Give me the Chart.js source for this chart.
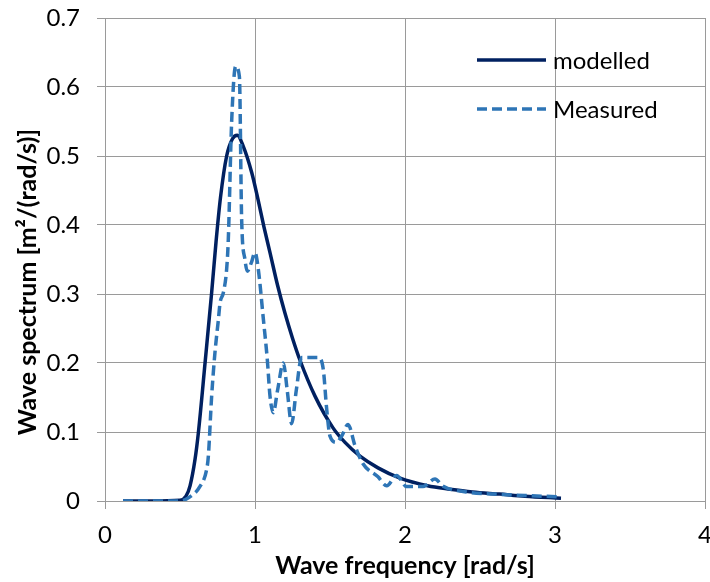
<!DOCTYPE html>
<html>
<head>
<meta charset="utf-8">
<script src="https://cdn.jsdelivr.net/npm/chart.js@4.4.1/dist/chart.umd.min.js"></script>
<style>
  body { margin: 0; background: #fff; }
  #wrap { width: 710px; height: 582px; }
</style>
</head>
<body>
<div id="wrap"><canvas id="grafik" width="710" height="582"></canvas></div>
<script>
// podaci ocitani sa slike
const modelX = [0.12, 0.3, 0.5, 0.54, 0.567, 0.6, 0.622, 0.667, 0.711, 0.74, 0.77, 0.811, 0.85, 0.882, 0.92, 0.978, 1.02, 1.06, 1.1, 1.15, 1.2, 1.25, 1.3, 1.4, 1.52, 1.6, 1.7, 1.82, 1.967, 2.15, 2.3, 2.45, 2.63, 2.8, 3.04];
const modelY = [0, 0, 0.001, 0.007, 0.022, 0.06, 0.098, 0.2, 0.302, 0.375, 0.44, 0.5, 0.525, 0.53, 0.515, 0.476, 0.437, 0.397, 0.36, 0.313, 0.272, 0.236, 0.204, 0.152, 0.106, 0.085, 0.065, 0.048, 0.033, 0.022, 0.017, 0.013, 0.01, 0.007, 0.004];

const merenoX = [0.12, 0.3, 0.5, 0.578, 0.63, 0.678, 0.689, 0.711, 0.733, 0.756, 0.767, 0.789, 0.811, 0.822, 0.844, 0.871, 0.896, 0.911, 0.933, 0.949, 0.975, 1.0, 1.022, 1.056, 1.082, 1.1, 1.122, 1.15, 1.189, 1.215, 1.244, 1.275, 1.311, 1.36, 1.422, 1.455, 1.478, 1.5, 1.544, 1.58, 1.62, 1.667, 1.72, 1.82, 1.878, 1.944, 2.01, 2.12, 2.2, 2.25, 2.41, 2.6, 2.8, 3.03];
const merenoY = [0, 0, 0, 0.008, 0.02, 0.046, 0.065, 0.152, 0.215, 0.263, 0.287, 0.302, 0.336, 0.379, 0.548, 0.63, 0.615, 0.408, 0.35, 0.333, 0.345, 0.36, 0.336, 0.263, 0.205, 0.152, 0.128, 0.16, 0.2, 0.16, 0.112, 0.16, 0.208, 0.208, 0.208, 0.191, 0.133, 0.094, 0.085, 0.095, 0.111, 0.08, 0.054, 0.035, 0.022, 0.037, 0.021, 0.021, 0.032, 0.022, 0.013, 0.01, 0.008, 0.006];

const xTikovi = [0, 1, 2, 3, 4];
const yTikovi = [0, 0.1, 0.2, 0.3, 0.4, 0.5, 0.6, 0.7];

const nazivi = ["modelled", "Measured"];
const boje = ["#002060", "#2E75B6"];

const naslovX = "Wave frequency [rad/s]";
const naslovY = "Wave spectrum [m\u00B2/(rad/s)]";

const FONT = "Lato, 'Open Sans', sans-serif";
const SIVA = "#9a9a9a";

function spoji(xs, ys) {
    return xs.map((x, i) => ({ x: x, y: ys[i] }));
}

// legenda i naslovi osa crtani rucno da bi stali tacno gde treba
const dodaci = {
    id: "dodaci",
    afterDraw(chart) {
        const ctx = chart.ctx;
        ctx.save();

        // legenda
        let redovi = [60, 109];
        redovi.forEach((y, i) => {
            ctx.beginPath();
            ctx.lineWidth = 3.5;
            ctx.strokeStyle = boje[i];
            ctx.setLineDash(i === 1 ? [10, 5] : []);
            ctx.moveTo(477, y);
            ctx.lineTo(546, y);
            ctx.stroke();
            ctx.setLineDash([]);
            ctx.fillStyle = "#000";
            ctx.font = "24px " + FONT;
            ctx.textAlign = "left";
            ctx.textBaseline = "middle";
            ctx.fillText(nazivi[i], 553, y + 1);
        });

        // naslovi osa
        ctx.fillStyle = "#000";
        ctx.font = "bold 25px " + FONT;
        ctx.textAlign = "center";
        ctx.textBaseline = "middle";
        ctx.fillText(naslovX, 405, 566);

        ctx.translate(28, 282);
        ctx.rotate(-Math.PI / 2);
        ctx.fillText(naslovY, 0, 0);

        ctx.restore();
    }
};

const podaci = {
    datasets: [
        {
            label: nazivi[0],
            data: spoji(modelX, modelY),
            borderColor: boje[0],
            backgroundColor: boje[0],
            borderWidth: 3.5,
            pointRadius: 0,
            cubicInterpolationMode: "monotone",
            order: 1
        },
        {
            label: nazivi[1],
            data: spoji(merenoX, merenoY),
            borderColor: boje[1],
            backgroundColor: boje[1],
            borderWidth: 3.5,
            borderDash: [10, 5],
            pointRadius: 0,
            cubicInterpolationMode: "monotone",
            order: 0
        }
    ]
};

const config = {
    type: "line",
    data: podaci,
    options: {
        responsive: false,
        animation: false,
        devicePixelRatio: 1,
        layout: { padding: { top: 18, right: 5, left: 0, bottom: 0 } },
        plugins: {
            legend: { display: false },
            tooltip: { enabled: false }
        },
        scales: {
            x: {
                type: "linear",
                min: 0,
                max: 4,
                afterBuildTicks: (s) => { s.ticks = xTikovi.map(v => ({ value: v })); },
                afterFit: (s) => { s.height = 81; s.paddingLeft = 0; s.paddingRight = 0; },
                ticks: {
                    color: "#000",
                    font: { family: FONT, size: 24 },
                    padding: 12,
                    maxRotation: 0,
                    callback: (v) => String(v)
                },
                grid: { color: SIVA, lineWidth: 1, tickLength: 8 },
                border: { color: SIVA, width: 1 }
            },
            y: {
                type: "linear",
                min: 0,
                max: 0.7,
                afterBuildTicks: (s) => { s.ticks = yTikovi.map(v => ({ value: v })); },
                afterFit: (s) => { s.width = 105; s.paddingTop = 0; s.paddingBottom = 0; },
                ticks: {
                    color: "#000",
                    font: { family: FONT, size: 24 },
                    padding: 17,
                    callback: (v) => String(+v.toFixed(1))
                },
                grid: { color: SIVA, lineWidth: 1, tickLength: 8 },
                border: { color: SIVA, width: 1 }
            }
        }
    },
    plugins: [dodaci]
};

var grafik = new Chart(document.getElementById("grafik"), config);
</script>
</body>
</html>
